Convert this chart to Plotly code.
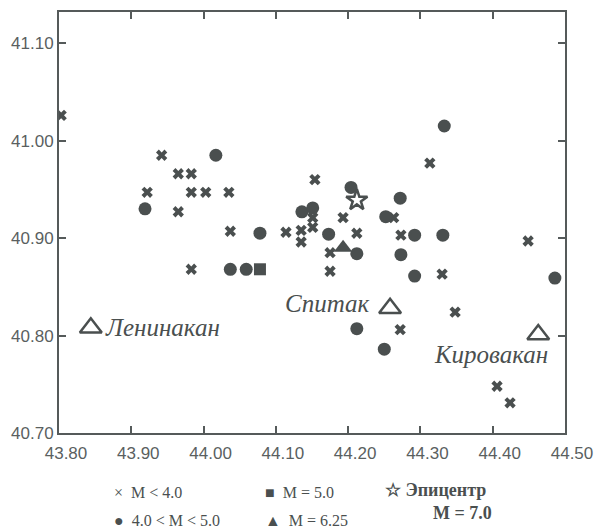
import plotly.graph_objects as go

# Epicentres of events in the Spitak region (longitude, latitude)
weak_lon = [43.803, 43.942, 43.965, 43.983, 43.922, 43.983, 44.003, 44.035, 43.965, 44.037,
            44.114, 43.983, 44.154, 44.151, 44.151, 44.135, 44.135, 44.193, 44.212, 44.175,
            44.175, 44.263, 44.273, 44.313, 44.330, 44.449, 44.348, 44.272, 44.406, 44.424]
weak_lat = [41.026, 40.985, 40.966, 40.966, 40.947, 40.947, 40.947, 40.947, 40.927, 40.907,
            40.906, 40.868, 40.960, 40.921, 40.911, 40.908, 40.896, 40.921, 40.905, 40.885,
            40.866, 40.921, 40.903, 40.977, 40.863, 40.897, 40.824, 40.806, 40.748, 40.731]

mid_lon = [44.017, 43.919, 44.078, 44.037, 44.059, 44.136, 44.151, 44.204, 44.173, 44.212,
           44.252, 44.272, 44.292, 44.331, 44.333, 44.273, 44.292, 44.486, 44.212, 44.250]
mid_lat = [40.985, 40.930, 40.905, 40.868, 40.868, 40.927, 40.931, 40.952, 40.904, 40.884,
           40.922, 40.941, 40.903, 40.903, 41.015, 40.883, 40.861, 40.859, 40.807, 40.786]

m5_lon = [44.078]
m5_lat = [40.868]

m625_lon = [44.193]
m625_lat = [40.890]

epi_lon = [44.212]
epi_lat = [40.939]

cities = ["Ленинакан", "Спитак", "Кировакан"]
city_lon = [43.844, 44.258, 44.463]
city_lat = [40.808, 40.828, 40.801]

x_ticks = [43.80, 43.90, 44.00, 44.10, 44.20, 44.30, 44.40, 44.50]
y_ticks = [40.70, 40.80, 40.90, 41.00, 41.10]

INK = "#4a4f4f"
AXIS = "#555a5a"

fig = go.Figure()

fig.add_trace(go.Scatter(x=weak_lon, y=weak_lat, mode="markers",
                         marker=dict(symbol="x", size=10, color=INK, line=dict(width=0))))
fig.add_trace(go.Scatter(x=mid_lon, y=mid_lat, mode="markers",
                         marker=dict(symbol="circle", size=13, color=INK, line=dict(width=0))))
fig.add_trace(go.Scatter(x=m5_lon, y=m5_lat, mode="markers",
                         marker=dict(symbol="square", size=12, color=INK, line=dict(width=0))))
fig.add_trace(go.Scatter(x=m625_lon, y=m625_lat, mode="markers",
                         marker=dict(symbol="triangle-up", size=16, color=INK, line=dict(width=0))))
fig.add_trace(go.Scatter(x=epi_lon, y=epi_lat, mode="markers",
                         marker=dict(symbol="star-open", size=16, color=INK, line=dict(width=2.5, color=INK))))
fig.add_trace(go.Scatter(x=city_lon, y=city_lat, mode="markers",
                         marker=dict(symbol="triangle-up-open", size=19, color=INK,
                                     line=dict(width=2.5, color=INK))))

city_font = dict(family="Liberation Serif", size=25, color=INK)
# city names: Leninakan to the right, Spitak to the left, Kirovakan below-left
fig.add_annotation(x=city_lon[0], y=city_lat[0], text=f"<i>{cities[0]}</i>", showarrow=False,
                   xanchor="left", yanchor="middle", xshift=12, font=city_font)
fig.add_annotation(x=city_lon[1], y=city_lat[1], text=f"<i>{cities[1]}</i>", showarrow=False,
                   xanchor="right", yanchor="middle", xshift=-18, yshift=5, font=city_font)
fig.add_annotation(x=city_lon[2], y=city_lat[2], text=f"<i>{cities[2]}</i>", showarrow=False,
                   xanchor="center", yanchor="middle", xshift=-47, yshift=-20, font=city_font)

# hand-laid legend under the plot
W, H, L, B = 506, 421, 59, 433
def px(x):
    return (x - L) / W
def py(y):
    return (B - y) / H

legend_items = [
    ("×  M &lt; 4.0", 112, 492),
    ("■  M = 5.0", 263, 492),
    ("●  4.0 &lt; M &lt; 5.0", 112, 520),
    ("▲  M = 6.25", 263, 520),
]
for text, x0, y0 in legend_items:
    fig.add_annotation(xref="paper", yref="paper", x=px(x0), y=py(y0), text=text,
                       showarrow=False, xanchor="left", yanchor="middle",
                       font=dict(family="Liberation Serif", size=16, color=INK))
fig.add_annotation(xref="paper", yref="paper", x=px(383), y=py(490),
                   text="<b>☆ Эпицентр</b>", showarrow=False, xanchor="left", yanchor="middle",
                   font=dict(family="Liberation Serif", size=18, color=INK))
fig.add_annotation(xref="paper", yref="paper", x=px(462), y=py(513),
                   text="<b>M = 7.0</b>", showarrow=False, xanchor="center", yanchor="middle",
                   font=dict(family="Liberation Serif", size=18, color=INK))

axis_common = dict(showgrid=False, zeroline=False, showline=True, linewidth=2, linecolor=AXIS,
                   ticks="inside", ticklen=7, tickwidth=2, tickcolor=AXIS, mirror="ticks",
                   automargin=False,
                   tickfont=dict(family="Liberation Sans", size=17, color="#5a5f5f"))

fig.update_layout(
    width=597, height=530,
    margin=dict(l=59, r=32, t=12, b=97),
    paper_bgcolor="white", plot_bgcolor="white",
    showlegend=False,
    xaxis=dict(range=[43.80, 44.50], tickvals=x_ticks,
               ticktext=[f"{v:.2f}" for v in x_ticks], ticklabelshift=7,
               ticklabelstandoff=4, **axis_common),
    yaxis=dict(range=[40.70, 41.132], tickvals=y_ticks,
               ticktext=[f"{v:.2f}" for v in y_ticks], **axis_common),
)

fig.write_html("out.html")
